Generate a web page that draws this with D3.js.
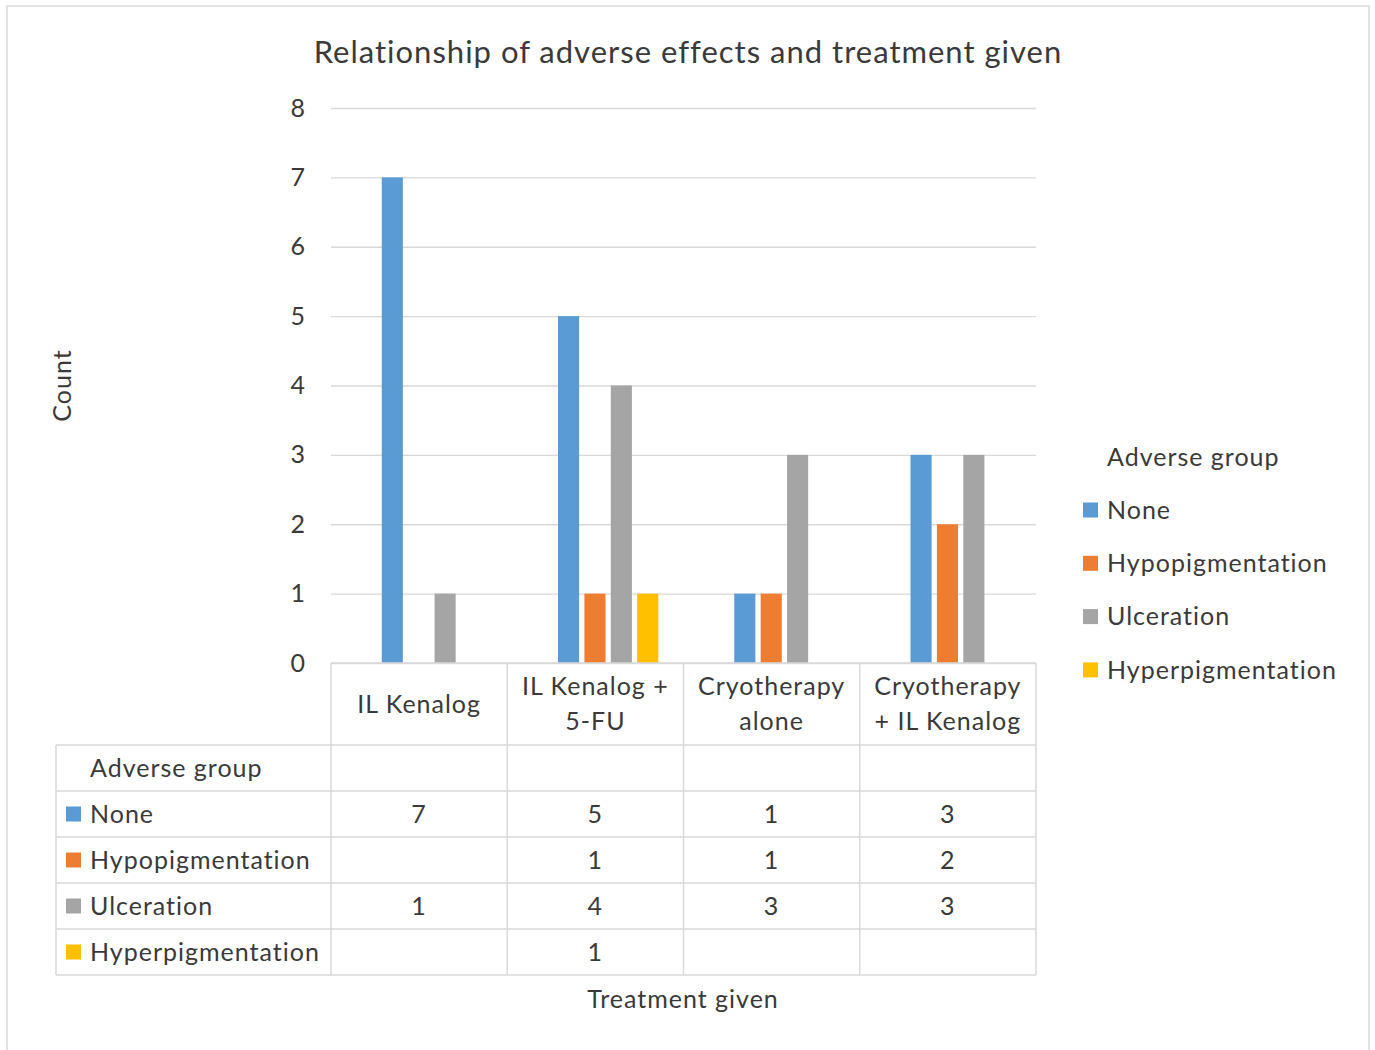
<!DOCTYPE html>
<meta charset="utf-8">
<style>
body { margin: 0; background: #fff; }
svg text { font-family: Lato, "Open Sans", sans-serif; fill: #3a3a3a; letter-spacing: 1px; }
.grid line { stroke: #d9d9d9; stroke-width: 1.3px; }
.grid path { display: none; }
.tbl line { stroke: #d9d9d9; stroke-width: 1.5px; }
</style>
<svg width="1375" height="1050"></svg>
<script src="https://d3js.org/d3.v7.min.js"></script>
<script>

var categories = ["IL Kenalog", "IL Kenalog + 5-FU", "Cryotherapy alone", "Cryotherapy + IL Kenalog"];
var series = ["None", "Hypopigmentation", "Ulceration", "Hyperpigmentation"];
var colors = ["#5b9bd5", "#ed7d31", "#a5a5a5", "#ffc000"];
var noneVals  = [7, 5, 1, 3];
var hypoVals  = [null, 1, 1, 2];
var ulcerVals = [1, 4, 3, 3];
var hyperVals = [null, 1, null, null];
var yTicks = [0, 1, 2, 3, 4, 5, 6, 7, 8];

var values = [noneVals, hypoVals, ulcerVals, hyperVals];

var svg = d3.select("svg");

// chart border
svg.append("rect")
    .attr("x", 7).attr("y", 6)
    .attr("width", 1362).attr("height", 1080)
    .attr("fill", "#fff").attr("stroke", "#d9d9d9").attr("stroke-width", 1.5);

var plot = {left: 331, right: 1036, top: 108, bottom: 663};
var tbl = {left: 56, head: 745, row: 46};
var fs = "25px";

var x0 = d3.scaleBand().domain(categories).range([plot.left, plot.right]);
var bw = x0.bandwidth();
var x1 = d3.scaleBand().domain(series)
    .range([bw * 0.288, bw * 0.857])
    .paddingInner(0.2);
var y = d3.scaleLinear().domain([0, 8]).range([plot.bottom, plot.top]);
var color = d3.scaleOrdinal().domain(series).range(colors);

// title
svg.append("text")
    .attr("x", 688).attr("y", 52)
    .attr("dy", "0.35em")
    .attr("text-anchor", "middle")
    .style("font-size", "31px")
    .text("Relationship of adverse effects and treatment given");

// gridlines + y labels
var yAxis = svg.append("g")
    .attr("class", "grid")
    .attr("transform", "translate(" + plot.left + ",0)")
    .call(d3.axisLeft(y).tickValues(yTicks).tickSize(-(plot.right - plot.left)).tickPadding(25));
yAxis.selectAll("text").style("font-size", fs).attr("fill", "#3a3a3a");

svg.append("text")
    .attr("transform", "translate(62," + (plot.top + plot.bottom) / 2 + ") rotate(-90)")
    .attr("dy", "0.35em")
    .attr("text-anchor", "middle")
    .style("font-size", fs)
    .text("Count");

// bars
var groups = svg.append("g").selectAll("g")
    .data(categories)
    .join("g")
    .attr("transform", function(d) { return "translate(" + x0(d) + ",0)"; });

groups.selectAll("rect")
    .data(function(d, i) {
        return series.map(function(s, j) { return {s: s, v: values[j][i]}; })
            .filter(function(e) { return e.v != null; });
    })
    .join("rect")
    .attr("x", function(d) { return x1(d.s); })
    .attr("width", x1.bandwidth())
    .attr("y", function(d) { return y(d.v); })
    .attr("height", function(d) { return y(0) - y(d.v); })
    .attr("fill", function(d) { return color(d.s); });

// data table
var t = svg.append("g").attr("class", "tbl");
var tblBottom = tbl.head + tbl.row * (series.length + 1);

t.append("line").attr("x1", plot.left).attr("x2", plot.right).attr("y1", plot.bottom).attr("y2", plot.bottom);
d3.range(series.length + 2).forEach(function(i) {
    var yy = tbl.head + i * tbl.row;
    t.append("line").attr("x1", tbl.left).attr("x2", plot.right).attr("y1", yy).attr("y2", yy);
});
t.append("line").attr("x1", tbl.left).attr("x2", tbl.left).attr("y1", tbl.head).attr("y2", tblBottom);
categories.concat([null]).forEach(function(c) {
    var xx = c == null ? plot.right : x0(c);
    t.append("line").attr("x1", xx).attr("x2", xx).attr("y1", plot.bottom).attr("y2", tblBottom);
});

// category headers, wrapped
var cx = svg.append("g")
    .attr("transform", "translate(0," + plot.bottom + ")")
    .call(d3.axisBottom(x0).tickSize(0).tickPadding(0));
cx.select(".domain").remove();
cx.selectAll("text")
    .style("font-size", fs).attr("fill", "#3a3a3a")
    .each(function(d) {
        var el = d3.select(this);
        var words = d.split(" "), lines = [], cur = [];
        el.text(null);
        var probe = el.append("tspan");
        words.forEach(function(w) {
            probe.text(cur.concat([w]).join(" "));
            if (cur.length && probe.node().getComputedTextLength() > bw - 14) {
                lines.push(cur.join(" "));
                cur = [w];
            } else {
                cur.push(w);
            }
        });
        lines.push(cur.join(" "));
        probe.remove();
        var lh = 35;
        var y0 = 41 - (lines.length - 1) * lh / 2;
        lines.forEach(function(l, k) {
            el.append("tspan").attr("x", 0).attr("y", y0 + k * lh).attr("dy", "0.35em").text(l);
        });
    });

// table row labels
svg.append("text")
    .attr("x", 90).attr("y", tbl.head + tbl.row / 2)
    .attr("dy", "0.35em")
    .style("font-size", fs)
    .text("Adverse group");

series.forEach(function(s, j) {
    var yc = tbl.head + tbl.row * (j + 1) + tbl.row / 2;
    svg.append("rect")
        .attr("x", 66).attr("y", yc - 7.5).attr("width", 15).attr("height", 15)
        .attr("fill", color(s));
    svg.append("text")
        .attr("x", 90).attr("y", yc).attr("dy", "0.35em")
        .style("font-size", fs)
        .text(s);
    categories.forEach(function(c, i) {
        if (values[j][i] == null) return;
        svg.append("text")
            .attr("x", x0(c) + bw / 2).attr("y", yc).attr("dy", "0.35em")
            .attr("text-anchor", "middle")
            .style("font-size", fs)
            .text(values[j][i]);
    });
});

svg.append("text")
    .attr("x", 683).attr("y", 999).attr("dy", "0.35em")
    .attr("text-anchor", "middle")
    .style("font-size", fs)
    .text("Treatment given");

// legend
var lg = svg.append("g").attr("transform", "translate(1083,0)");
lg.append("text")
    .attr("x", 24).attr("y", 457).attr("dy", "0.35em")
    .style("font-size", fs)
    .text("Adverse group");
series.forEach(function(s, j) {
    var yc = 510 + j * 53.3;
    lg.append("rect").attr("x", 0).attr("y", yc - 7.5).attr("width", 15).attr("height", 15).attr("fill", color(s));
    lg.append("text").attr("x", 24).attr("y", yc).attr("dy", "0.35em")
        .style("font-size", fs).text(s);
});
</script>
